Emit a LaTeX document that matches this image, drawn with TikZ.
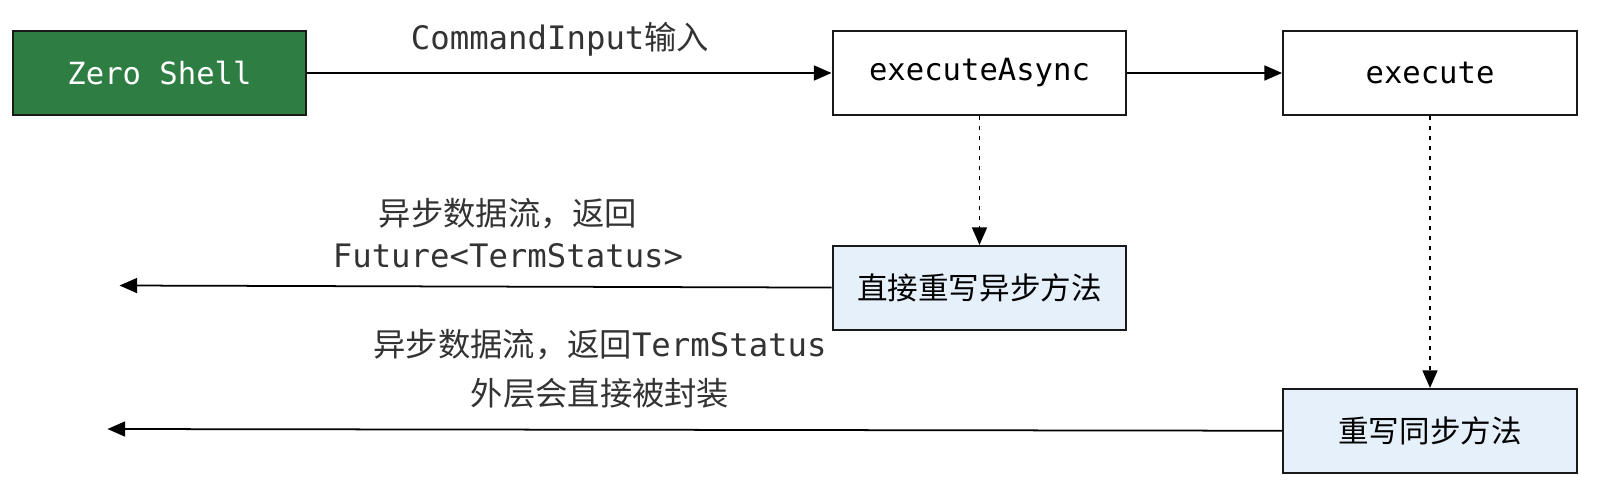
\documentclass[tikz,border=0pt]{standalone}
\usepackage{fontspec}
\setmonofont{DejaVu Sans Mono}
\newfontfamily\cjk{Noto Sans CJK SC}
\usetikzlibrary{arrows.meta,positioning}
\definecolor{shellgreen}{HTML}{2E7D43}
\definecolor{boxblue}{HTML}{E6F0FB}
\definecolor{labelgray}{HTML}{333333}

\begin{document}
\begin{tikzpicture}[x=0.02cm,y=-0.02cm,
    block/.style={
    % The shape:
    rectangle,
    minimum width=5.88cm,minimum height=1.68cm,
    % The rest
    line width=1.15pt,draw=black!90,fill=white,
    font=\ttfamily\fontsize{17.4}{20}\selectfont},
    shell/.style={block,fill=shellgreen,text=white},
    method/.style={block,fill=boxblue,font=\cjk\fontsize{17.4}{20}\selectfont},
    flow/.style={line width=1pt,-{Triangle[length=10pt,width=8.5pt]}},
    hint/.style={flow,dash pattern=on 2.3pt off 3.4pt},
    note/.style={align=center,text=labelgray,font=\ttfamily\fontsize{18.4}{23.5}\selectfont}]
    \useasboundingbox (0,0) rectangle (1602,490);
    % Top row
    \node (shell) [shell] at (159.5,73) {Zero Shell};
    \node (async) [block] at (979.5,73) {executeAsync};
    \node (exec) [block] at (1430,73) {execute};
    % Overrides
    \node (rewriteAsync) [method,below=2.58cm of async] {直接重写异步方法};
    \node (rewriteSync) [method,below=5.44cm of exec] {重写同步方法};
    \coordinate (endAsync) at (119.5,285.5);
    \coordinate (endSync) at (107.5,429);
    % Connectors
    \draw[flow] (shell) -- (async);
    \draw[flow] (async) -- (exec);
    \draw[hint] (async) -- (rewriteAsync);
    \draw[hint] (exec) -- (rewriteSync);
    \draw[flow] (rewriteAsync) -- (endAsync);
    \draw[flow] (rewriteSync) -- (endSync);
    % Labels
    \node (inputNote) [note] at (560,39) {CommandInput{\cjk 输入}};
    \node (asyncNote) [note] at (508,233) {{\cjk 异步数据流，返回}\\Future<TermStatus>};
    \node (syncNote) [note,font=\ttfamily\fontsize{18.4}{27.6}\selectfont] at (600,369) {{\cjk 异步数据流，返回}TermStatus\\{\cjk 外层会直接被封装}};
\end{tikzpicture}
\end{document}
